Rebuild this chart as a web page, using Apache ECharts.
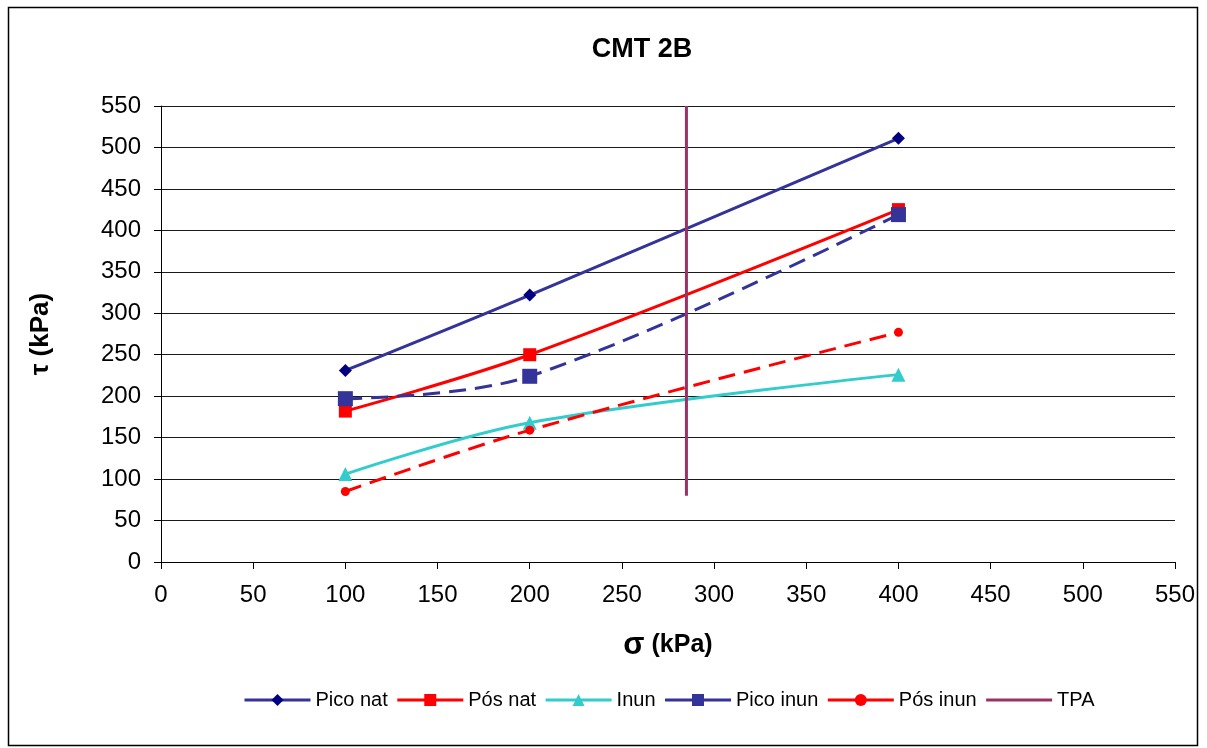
<!DOCTYPE html>
<html><head><meta charset="utf-8">
<script src="https://cdn.jsdelivr.net/npm/echarts@6/dist/echarts.min.js"></script>
<style>html,body{margin:0;padding:0;background:#fff}#c{width:1207px;height:748px}</style>
</head><body><div id="c"></div>
<script>
const sigma = [100, 200, 400];
const picoNat = [231, 322, 511];
const posNat = [182, 250, 425];
const inun = [106, 168, 226];
const picoInun = [197, 224, 419];
const posInun = [85, 159, 277];
const tpaX = [285, 285];
const tpaY = [80, 550];
const axisTicks = [0, 50, 100, 150, 200, 250, 300, 350, 400, 450, 500, 550];

const pairs = (xs, ys) => xs.map((x, i) => [x, ys[i]]);
const chart = echarts.init(document.getElementById('c'), null, {renderer: 'canvas'});
const F = 'Arial, "Liberation Sans", sans-serif';
function ser(name, data, color, symbol, size, dashed, symColor) {
  return {
    name, type: 'line', data, smooth: 0.35, symbol, symbolSize: size,
    lineStyle: {color, width: 3, type: dashed ? [17, 9] : 'solid'},
    itemStyle: {color: symColor || color},
    emphasis: {disabled: true}, z: 3
  };
}
chart.setOption({
  animation: false,
  title: {text: 'CMT 2B', left: 637, top: 31, textAlign: 'center',
    textStyle: {fontFamily: F, fontSize: 27, fontWeight: 'bold', color: '#000'}},
  graphic: [{type: 'rect', shape: {x: 8.5, y: 7.5, width: 1189, height: 738},
    style: {fill: 'none', stroke: '#000', lineWidth: 1.5}, z: -1}],
  grid: {left: 161, right: 32, top: 106, bottom: 186},
  legend: {left: 238, top: 685, itemWidth: 66, itemHeight: 15, itemGap: 8,
    lineStyle: {width: 3},
    textStyle: {fontFamily: F, fontSize: 20, color: '#000'},
    data: [
      {name: 'Pico nat'}, {name: 'Pós nat'}, {name: 'Inun'},
      {name: 'Pico inun', lineStyle: {type: 'solid', width: 3}},
      {name: 'Pós inun', lineStyle: {type: 'solid', width: 3}},
      {name: 'TPA', itemStyle: {color: 'rgba(0,0,0,0)', opacity: 0, borderWidth: 0}}
    ]},
  xAxis: {type: 'value', min: 0, max: 550, interval: 50,
    name: '{s|σ} (kPa)', nameLocation: 'middle', nameGap: 68,
    nameTextStyle: {fontFamily: F, fontSize: 25, fontWeight: 'bold', color: '#000',
      rich: {s: {fontFamily: F, fontSize: 31, fontWeight: 'bold', color: '#000'}}},
    axisLine: {show: true, onZero: false, lineStyle: {color: '#000', width: 1}},
    axisTick: {show: true, length: 7, lineStyle: {color: '#000'}},
    axisLabel: {fontFamily: F, fontSize: 24, color: '#000', margin: 21,
      formatter: v => axisTicks.includes(v) ? String(v) : ''},
    splitLine: {show: false}},
  yAxis: {type: 'value', min: 0, max: 550, interval: 50,
    name: 'τ (kPa)', nameLocation: 'middle', nameGap: 107, nameRotate: 90,
    nameTextStyle: {fontFamily: F, fontSize: 26, fontWeight: 'bold', color: '#000'},
    axisLine: {show: true, lineStyle: {color: '#000', width: 1}},
    axisTick: {show: true, length: 7, lineStyle: {color: '#000'}},
    axisLabel: {fontFamily: F, fontSize: 24, color: '#000', margin: 20,
      formatter: v => axisTicks.includes(v) ? String(v) : ''},
    splitLine: {show: true, lineStyle: {color: '#1a1a1a', width: 1}}},
  series: [
    ser('Pico nat', pairs(sigma, picoNat), '#333399', 'diamond', 13, false, '#000080'),
    ser('Pós nat', pairs(sigma, posNat), '#FF0000', 'rect', 13, false),
    ser('Inun', pairs(sigma, inun), '#33CCCC', 'triangle', 14, false),
    ser('Pico inun', pairs(sigma, picoInun), '#333399', 'rect', 15, true),
    ser('Pós inun', pairs(sigma, posInun), '#FF0000', 'circle', 9, true),
    {name: 'TPA', type: 'line', data: pairs(tpaX, tpaY), symbol: 'none',
      lineStyle: {color: '#993366', width: 3}, itemStyle: {color: '#993366'}, z: 4}
  ]
});
</script></body></html>
